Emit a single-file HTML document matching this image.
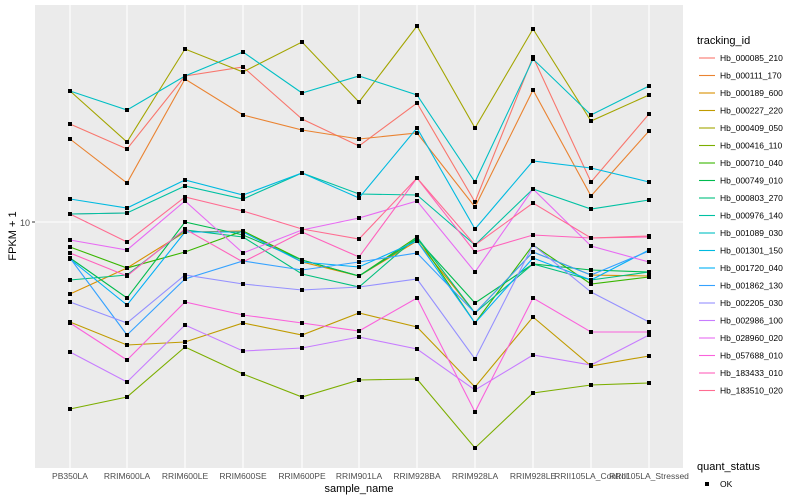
<!DOCTYPE html>
<html><head><meta charset="utf-8"><style>body{margin:0;background:#fff}svg{display:block}text{font-family:"Liberation Sans",sans-serif}</style></head><body>
<svg width="800" height="500" viewBox="0 0 800 500">
<defs><marker id="m" markerWidth="4" markerHeight="4" refX="2" refY="2" markerUnits="userSpaceOnUse"><rect width="4" height="4" fill="#000"/></marker></defs>
<rect x="35" y="5" width="648" height="463" fill="#ebebeb"/>
<g stroke="#fff" stroke-width="1.1">
<line x1="35" y1="222" x2="683" y2="222"/>
<line x1="70" y1="5" x2="70" y2="468"/><line x1="127" y1="5" x2="127" y2="468"/><line x1="185" y1="5" x2="185" y2="468"/><line x1="243" y1="5" x2="243" y2="468"/><line x1="302" y1="5" x2="302" y2="468"/><line x1="359" y1="5" x2="359" y2="468"/><line x1="417" y1="5" x2="417" y2="468"/><line x1="475" y1="5" x2="475" y2="468"/><line x1="533" y1="5" x2="533" y2="468"/><line x1="591" y1="5" x2="591" y2="468"/><line x1="649" y1="5" x2="649" y2="468"/>
</g>
<g fill="none" stroke-width="1.1" marker-start="url(#m)" marker-mid="url(#m)" marker-end="url(#m)">
<polyline stroke="#F8766D" points="70,124 127,149 185,76 243,67 302,119 359,146 417,103 475,202 533,57 591,182 649,114"/>
<polyline stroke="#EA8331" points="70,139 127,183 185,79 243,115 302,130 359,139 417,133 475,207 533,90 591,196 649,131"/>
<polyline stroke="#D89000" points="70,294 127,268 185,232 243,231 302,262 359,276 417,241 475,313 533,252 591,275 649,276"/>
<polyline stroke="#C09B00" points="70,322 127,345 185,342 243,323 302,335 359,313 417,327 475,387 533,317 591,366 649,356"/>
<polyline stroke="#A3A500" points="70,91 127,142 185,49 243,72 302,42 359,102 417,26 475,128 533,29 591,121 649,95"/>
<polyline stroke="#7CAE00" points="70,409 127,397 185,347 243,374 302,397 359,380 417,379 475,448 533,393 591,385 649,383"/>
<polyline stroke="#39B600" points="70,247 127,268 185,252 243,231 302,260 359,276 417,237 475,323 533,245 591,284 649,277"/>
<polyline stroke="#00BB4E" points="70,258 127,298 185,222 243,235 302,260 359,276 417,239 475,303 533,264 591,270 649,272"/>
<polyline stroke="#888888" points="70,214 127,213"/>
<polyline stroke="#00BF7D" points="70,280 127,275 185,230 243,237 302,274 359,287 417,237 475,313 533,264 591,280 649,272"/>
<polyline stroke="#00C1A3" points="70,214 127,213 185,186 243,199 302,173 359,194 417,195 475,245 533,189 591,209 649,200"/>
<polyline stroke="#00BFC4" points="70,91 127,110 185,76 243,52 302,93 359,76 417,95 475,182 533,59 591,115 649,86"/>
<polyline stroke="#00BAE0" points="70,199 127,208 185,180 243,195 302,173 359,198 417,128 475,229 533,161 591,168 649,182"/>
<polyline stroke="#00B0F6" points="70,259 127,305 185,232 243,232 302,262 359,267 417,241 475,323 533,258 591,280 649,250"/>
<polyline stroke="#35A2FF" points="70,258 127,335 185,279 243,261 302,270 359,262 417,253 475,313 533,252 591,275 649,251"/>
<polyline stroke="#9590FF" points="70,302 127,323 185,275 243,284 302,290 359,287 417,279 475,359 533,245 591,292 649,322"/>
<polyline stroke="#C77CFF" points="70,352 127,382 185,325 243,351 302,348 359,337 417,349 475,390 533,355 591,365 649,335"/>
<polyline stroke="#E76BF3" points="70,240 127,250 185,201 243,253 302,230 359,218 417,201 475,272 533,189 591,246 649,262"/>
<polyline stroke="#FA62DB" points="70,323 127,360 185,302 243,315 302,323 359,331 417,298 475,412 533,298 591,332 649,332"/>
<polyline stroke="#FF62BC" points="70,253 127,276 185,229 243,262 302,232 359,257 417,178 475,252 533,235 591,238 649,237"/>
<polyline stroke="#FF6C91" points="70,214 127,242 185,197 243,211 302,229 359,239 417,178 475,245 533,203 591,238 649,236"/>
</g>
<g stroke="#333" stroke-width="1"><line x1="32" y1="222" x2="35" y2="222"/></g>
<text x="30" y="226" font-size="9" fill="#4d4d4d" text-anchor="end">10</text>
<g font-size="8.5" fill="#4d4d4d" text-anchor="middle">
<text x="70" y="479">PB350LA</text><text x="127" y="479">RRIM600LA</text><text x="185" y="479">RRIM600LE</text><text x="243" y="479">RRIM600SE</text><text x="302" y="479">RRIM600PE</text><text x="359" y="479">RRIM901LA</text><text x="417" y="479">RRIM928BA</text><text x="475" y="479">RRIM928LA</text><text x="533" y="479">RRIM928LE</text><text x="591" y="479">RRII105LA_Control</text><text x="649" y="479">RRII105LA_Stressed</text>
</g>
<text x="359" y="492" font-size="11" fill="#000" text-anchor="middle">sample_name</text>
<text x="16" y="236" font-size="11" fill="#000" text-anchor="middle" transform="rotate(-90 16 236)">FPKM + 1</text>
<text x="697" y="44" font-size="11">tracking_id</text>
<g font-size="8.5" fill="#000" stroke-width="1.1">
<line x1="699" y1="58" x2="715" y2="58" stroke="#F8766D"/><text x="720" y="61">Hb_000085_210</text>
<line x1="699" y1="75.5" x2="715" y2="75.5" stroke="#EA8331"/><text x="720" y="78.5">Hb_000111_170</text>
<line x1="699" y1="93" x2="715" y2="93" stroke="#D89000"/><text x="720" y="96">Hb_000189_600</text>
<line x1="699" y1="110.5" x2="715" y2="110.5" stroke="#C09B00"/><text x="720" y="113.5">Hb_000227_220</text>
<line x1="699" y1="128" x2="715" y2="128" stroke="#A3A500"/><text x="720" y="131">Hb_000409_050</text>
<line x1="699" y1="145.5" x2="715" y2="145.5" stroke="#7CAE00"/><text x="720" y="148.5">Hb_000416_110</text>
<line x1="699" y1="163" x2="715" y2="163" stroke="#39B600"/><text x="720" y="166">Hb_000710_040</text>
<line x1="699" y1="180.5" x2="715" y2="180.5" stroke="#00BB4E"/><text x="720" y="183.5">Hb_000749_010</text>
<line x1="699" y1="198" x2="715" y2="198" stroke="#00BF7D"/><text x="720" y="201">Hb_000803_270</text>
<line x1="699" y1="215.5" x2="715" y2="215.5" stroke="#00C1A3"/><text x="720" y="218.5">Hb_000976_140</text>
<line x1="699" y1="233" x2="715" y2="233" stroke="#00BFC4"/><text x="720" y="236">Hb_001089_030</text>
<line x1="699" y1="250.5" x2="715" y2="250.5" stroke="#00BAE0"/><text x="720" y="253.5">Hb_001301_150</text>
<line x1="699" y1="268" x2="715" y2="268" stroke="#00B0F6"/><text x="720" y="271">Hb_001720_040</text>
<line x1="699" y1="285.5" x2="715" y2="285.5" stroke="#35A2FF"/><text x="720" y="288.5">Hb_001862_130</text>
<line x1="699" y1="303" x2="715" y2="303" stroke="#9590FF"/><text x="720" y="306">Hb_002205_030</text>
<line x1="699" y1="320.5" x2="715" y2="320.5" stroke="#C77CFF"/><text x="720" y="323.5">Hb_002986_100</text>
<line x1="699" y1="338" x2="715" y2="338" stroke="#E76BF3"/><text x="720" y="341">Hb_028960_020</text>
<line x1="699" y1="355.5" x2="715" y2="355.5" stroke="#FA62DB"/><text x="720" y="358.5">Hb_057688_010</text>
<line x1="699" y1="373" x2="715" y2="373" stroke="#FF62BC"/><text x="720" y="376">Hb_183433_010</text>
<line x1="699" y1="390.5" x2="715" y2="390.5" stroke="#FF6C91"/><text x="720" y="393.5">Hb_183510_020</text>
</g>
<text x="697" y="470" font-size="11">quant_status</text>
<rect x="705" y="482" width="4" height="4" fill="#000"/>
<text x="720" y="487" font-size="8.5">OK</text>
</svg>
</body></html>
